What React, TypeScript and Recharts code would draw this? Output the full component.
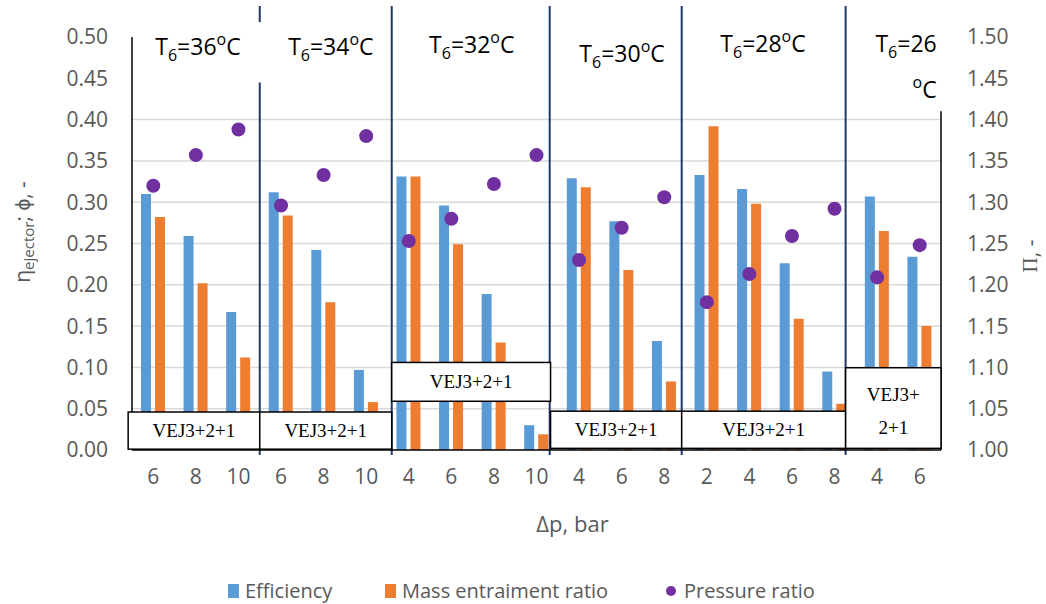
import React from 'react'
import {
  ComposedChart,
  Bar,
  Scatter,
  XAxis,
  YAxis,
  CartesianGrid,
  ReferenceLine,
  ReferenceArea,
  ReferenceDot,
  Legend,
} from 'recharts'

// x categories: pressure difference, bar
const pressureDiffs = ['6', '8', '10', '6', '8', '10', '4', '6', '8', '10', '4', '6', '8', '2', '4', '6', '8', '4', '6']
// left axis
const efficiency = [0.31, 0.259, 0.167, 0.312, 0.242, 0.097, 0.331, 0.296, 0.189, 0.03, 0.329, 0.277, 0.132, 0.333, 0.316, 0.226, 0.095, 0.307, 0.234]
const massRatio = [0.282, 0.202, 0.112, 0.284, 0.179, 0.058, 0.331, 0.249, 0.13, 0.019, 0.318, 0.218, 0.083, 0.392, 0.298, 0.159, 0.056, 0.265, 0.15]
// right axis
const pressureRatio = [1.32, 1.357, 1.388, 1.296, 1.333, 1.38, 1.253, 1.28, 1.322, 1.357, 1.23, 1.269, 1.306, 1.179, 1.213, 1.259, 1.292, 1.209, 1.248]

const leftTicks = [0, 0.05, 0.1, 0.15, 0.2, 0.25, 0.3, 0.35, 0.4, 0.45, 0.5]
const rightTicks = [1, 1.05, 1.1, 1.15, 1.2, 1.25, 1.3, 1.35, 1.4, 1.45, 1.5]
const gridValues = [0.05, 0.1, 0.15, 0.2, 0.25, 0.3, 0.35, 0.4]

const temperatures = ['36', '34', '32', '30', '28', '26']

// annotation placement (x in category index units, y on left axis)
const titlePos = [
  { x: 1.05, y: 0.478 },
  { x: 4.17, y: 0.478 },
  { x: 7.48, y: 0.481 },
  { x: 11.01, y: 0.47 },
  { x: 14.32, y: 0.482 },
  { x: 18.4, y: 0.482 },
]
const separators = [2.5, 5.6, 9.31, 12.41, 16.26]
const boxes = [
  { x1: -0.59, x2: 2.5, y1: 0.001, y2: 0.046 },
  { x1: 2.5, x2: 5.6, y1: 0.001, y2: 0.046 },
  { x1: 5.6, x2: 9.33, y1: 0.059, y2: 0.106 },
  { x1: 9.33, x2: 12.41, y1: 0.002, y2: 0.047 },
  { x1: 12.41, x2: 16.26, y1: 0.002, y2: 0.047 },
  { x1: 16.26, x2: 18.5, y1: 0.002, y2: 0.0996 },
]

const data = pressureDiffs.map((p, i) => ({
  idx: i,
  dp: p,
  eff: efficiency[i],
  mer: massRatio[i],
  pr: pressureRatio[i],
}))

const FONT = "'Open Sans', sans-serif"
const GRAY = '#595959'
const NAVY = '#203864'
const BLUE = '#5B9BD5'
const ORANGE = '#ED7D31'
const PURPLE = '#7030A0'

function TitleText(props: any) {
  const { viewBox, temp, last } = props
  const x = viewBox.x
  const y = viewBox.y
  if (last) {
    return (
      <g>
        <text x={x} y={y} textAnchor="end" fontFamily={FONT} fontSize={23} fill="#000">
          T<tspan dy={6} fontSize={16}>6</tspan>
          <tspan dy={-6}>={temp}</tspan>
        </text>
        <text x={x} y={y + 46} textAnchor="end" fontFamily={FONT} fontSize={23} fill="#000">
          <tspan dy={-10} fontSize={16}>o</tspan>
          <tspan dy={10}>C</tspan>
        </text>
      </g>
    )
  }
  return (
    <text x={x} y={y} textAnchor="middle" fontFamily={FONT} fontSize={23} fill="#000">
      T<tspan dy={6} fontSize={16}>6</tspan>
      <tspan dy={-6}>={temp}</tspan>
      <tspan dy={-10} fontSize={16}>o</tspan>
      <tspan dy={10}>C</tspan>
    </text>
  )
}

// white framed box with its configuration label, drawn over the bars
function BoxShape(props: any) {
  const { x, y, width, height, split } = props
  const cx = x + width / 2
  const cy = y + height / 2
  const style = { fontFamily: "'Liberation Serif', 'Times New Roman', serif", fontSize: 19, fill: '#000' }
  return (
    <g>
      <rect x={x} y={y} width={width} height={height} fill="#fff" stroke="#000" strokeWidth={1.5} />
      {split ? (
        <>
          <text x={cx} y={cy - 14} textAnchor="middle" dominantBaseline="central" {...style}>
            VEJ3+
          </text>
          <text x={cx} y={cy + 19} textAnchor="middle" dominantBaseline="central" {...style}>
            2+1
          </text>
        </>
      ) : (
        <text x={cx} y={cy} textAnchor="middle" dominantBaseline="central" {...style}>
          VEJ3+2+1
        </text>
      )}
    </g>
  )
}

function LeftTitle() {
  return (
    <text
      x={22}
      y={232}
      transform="rotate(-90 22 232)"
      textAnchor="middle"
      dominantBaseline="central"
      fontFamily={FONT}
      fontSize={21}
      fill={GRAY}
    >
      η<tspan dy={6} fontSize={15}>ejector</tspan>
      <tspan dy={-6}>; ϕ, -</tspan>
    </text>
  )
}

function RightTitle() {
  return (
    <text
      x={1030}
      y={256}
      transform="rotate(-90 1030 256)"
      textAnchor="middle"
      dominantBaseline="central"
      fontSize={21}
      fill={GRAY}
    >
      <tspan fontFamily="'Liberation Serif', serif">Π</tspan>
      <tspan fontFamily={FONT}>, -</tspan>
    </text>
  )
}

function XTitle(props: any) {
  const { viewBox } = props
  return (
    <text
      x={viewBox.x + viewBox.width / 2 + 36}
      y={viewBox.y + 73}
      textAnchor="middle"
      dominantBaseline="central"
      fontFamily={FONT}
      fontSize={22}
      fill={GRAY}
    >
      Δp, bar
    </text>
  )
}

const renderLegend = () => (
  <div style={{ position: 'relative', height: 30, fontFamily: FONT, fontSize: 20, color: GRAY }}>
    <span style={{ position: 'absolute', left: 228, top: 8, width: 11, height: 14, background: BLUE }} />
    <span style={{ position: 'absolute', left: 245, top: 0, lineHeight: '30px' }}>Efficiency</span>
    <span style={{ position: 'absolute', left: 385, top: 8, width: 11, height: 14, background: ORANGE }} />
    <span style={{ position: 'absolute', left: 402, top: 0, lineHeight: '30px' }}>Mass entraiment ratio</span>
    <span style={{ position: 'absolute', left: 666, top: 10, width: 10, height: 10, borderRadius: 5, background: PURPLE }} />
    <span style={{ position: 'absolute', left: 684, top: 0, lineHeight: '30px' }}>Pressure ratio</span>
  </div>
)

export default function App() {
  return (
    <div style={{ position: 'absolute', left: 0, top: 0, width: 1046, height: 604, background: '#fff' }}>
      <ComposedChart width={1046} height={604} data={data} margin={{ top: 37, right: 0, left: 0, bottom: 54 }}>
        <CartesianGrid
          yAxisId="left"
          vertical={false}
          horizontalValues={gridValues}
          stroke="#D9D9D9"
          strokeWidth={1.5}
        />
        <XAxis
          type="number"
          dataKey="idx"
          domain={[-0.5, 18.5]}
          ticks={pressureDiffs.map((_, i) => i)}
          tickFormatter={(i: number) => pressureDiffs[i]}
          interval={0}
          height={100}
          tickSize={0}
          tickMargin={19}
          tickLine={false}
          axisLine={{ stroke: '#000', strokeWidth: 1.5 }}
          tick={{ fill: GRAY, fontSize: 21, fontFamily: FONT }}
          label={<XTitle />}
        />
        <YAxis
          yAxisId="left"
          domain={[0, 0.5]}
          ticks={leftTicks}
          tickFormatter={(v: number) => v.toFixed(2)}
          width={132}
          tickSize={0}
          tickMargin={24}
          tickLine={false}
          axisLine={{ stroke: '#000', strokeWidth: 1.5 }}
          tick={{ fill: GRAY, fontSize: 21, fontFamily: FONT }}
          label={<LeftTitle />}
        />
        <YAxis
          yAxisId="right"
          orientation="right"
          domain={[1, 1.5]}
          ticks={rightTicks}
          tickFormatter={(v: number) => v.toFixed(2)}
          width={105}
          tickSize={0}
          tickMargin={26}
          tickLine={false}
          axisLine={false}
          tick={{ fill: GRAY, fontSize: 21, fontFamily: FONT, textAnchor: 'start' }}
          label={<RightTitle />}
        />
        <Bar yAxisId="left" dataKey="eff" name="Efficiency" fill={BLUE} barSize={10} isAnimationActive={false} />
        <Bar yAxisId="left" dataKey="mer" name="Mass entraiment ratio" fill={ORANGE} barSize={10} isAnimationActive={false} />
        <Scatter
          yAxisId="right"
          dataKey="pr"
          name="Pressure ratio"
          fill={PURPLE}
          isAnimationActive={false}
          shape={(p: any) => <circle cx={p.cx} cy={p.cy} r={7} fill={PURPLE} />}
        />
        {/* right axis line, partly hidden by the last title */}
        <ReferenceLine
          yAxisId="left"
          segment={[{ x: 18.5, y: 0 }, { x: 18.5, y: 0.41 }]}
          stroke="#000"
          strokeWidth={1.5}
          ifOverflow="visible"
        />
        {separators.map((s, i) =>
          i === 0 ? (
            <React.Fragment key={s}>
              <ReferenceLine yAxisId="left" segment={[{ x: s, y: 0.518 }, { x: s, y: 0.5375 }]} stroke={NAVY} strokeWidth={2} ifOverflow="visible" />
              <ReferenceLine yAxisId="left" segment={[{ x: s, y: -0.006 }, { x: s, y: 0.445 }]} stroke={NAVY} strokeWidth={2} ifOverflow="visible" />
            </React.Fragment>
          ) : (
            <ReferenceLine key={s} yAxisId="left" segment={[{ x: s, y: -0.006 }, { x: s, y: 0.5375 }]} stroke={NAVY} strokeWidth={2} ifOverflow="visible" />
          )
        )}
        {boxes.map((b, i) => (
          <ReferenceArea
            key={i}
            yAxisId="left"
            x1={b.x1}
            x2={b.x2}
            y1={b.y1}
            y2={b.y2}
            ifOverflow="visible"
            zIndex={900}
            shape={<BoxShape split={i === boxes.length - 1} />}
          />
        ))}
        {temperatures.map((t, i) => (
          <ReferenceDot
            key={t}
            yAxisId="left"
            x={titlePos[i].x}
            y={titlePos[i].y}
            r={0}
            fill="none"
            stroke="none"
            ifOverflow="visible"
            label={<TitleText temp={t} last={i === temperatures.length - 1} />}
          />
        ))}
        <Legend
          verticalAlign="middle"
          align="center"
          content={renderLegend}
          wrapperStyle={{ position: 'absolute', top: 576, left: 0, width: 1046, height: 30 }}
        />
      </ComposedChart>
    </div>
  )
}
